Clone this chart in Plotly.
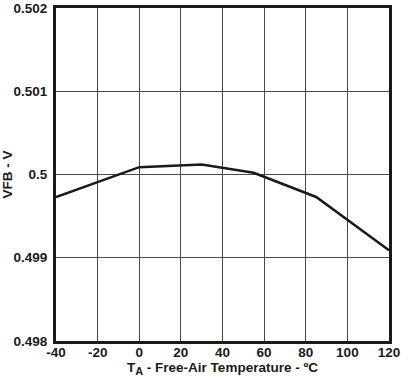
import plotly.graph_objects as go

temps = [-40, 0, 30, 55, 85, 120]
vfb = [0.49973, 0.500088, 0.50012, 0.50002, 0.49973, 0.49909]
x_ticks = [-40, -20, 0, 20, 40, 60, 80, 100, 120]
y_ticks = [0.498, 0.499, 0.5, 0.501, 0.502]
y_tick_labels = ["0.498", "0.499", "0.5", "0.501", "0.502"]

fig = go.Figure()
fig.add_trace(go.Scatter(x=temps, y=vfb, mode="lines",
                         line=dict(color="#1a1a1a", width=2.5), showlegend=False))

font_family = "Liberation Sans, Arial, sans-serif"
fig.update_layout(
    width=411, height=386,
    margin=dict(l=56, r=22, t=8, b=45),
    paper_bgcolor="white", plot_bgcolor="white",
    font=dict(family=font_family, color="#1a1a1a", size=13.5),
)
fig.update_xaxes(
    range=[-40, 120], tickvals=x_ticks, ticktext=[f"<b>{v}</b>" for v in x_ticks],
    showgrid=True, gridcolor="#4a4a4a", gridwidth=1,
    showline=True, linecolor="#1a1a1a", linewidth=3, mirror=True,
    ticks="", zeroline=False, ticklabelstandoff=-3, automargin=False,
    title=dict(text="<b>T<sub><span style='font-size:11px'>A</span></sub> - Free-Air Temperature - ºC</b>",
               font=dict(size=13.5), standoff=2),
)
fig.update_yaxes(
    range=[0.498, 0.502], tickvals=y_ticks, ticktext=[f"<b>{t}</b>" for t in y_tick_labels],
    showgrid=True, gridcolor="#4a4a4a", gridwidth=1,
    showline=True, linecolor="#1a1a1a", linewidth=3, mirror=True,
    ticks="", zeroline=False, ticklabelstandoff=3, automargin=False,
    title=dict(text="<b>VFB - V</b>", font=dict(size=13.5), standoff=2),
)
fig.write_html("out.html", config={"displayModeBar": False},
               post_script="document.body.style.margin='0';")
